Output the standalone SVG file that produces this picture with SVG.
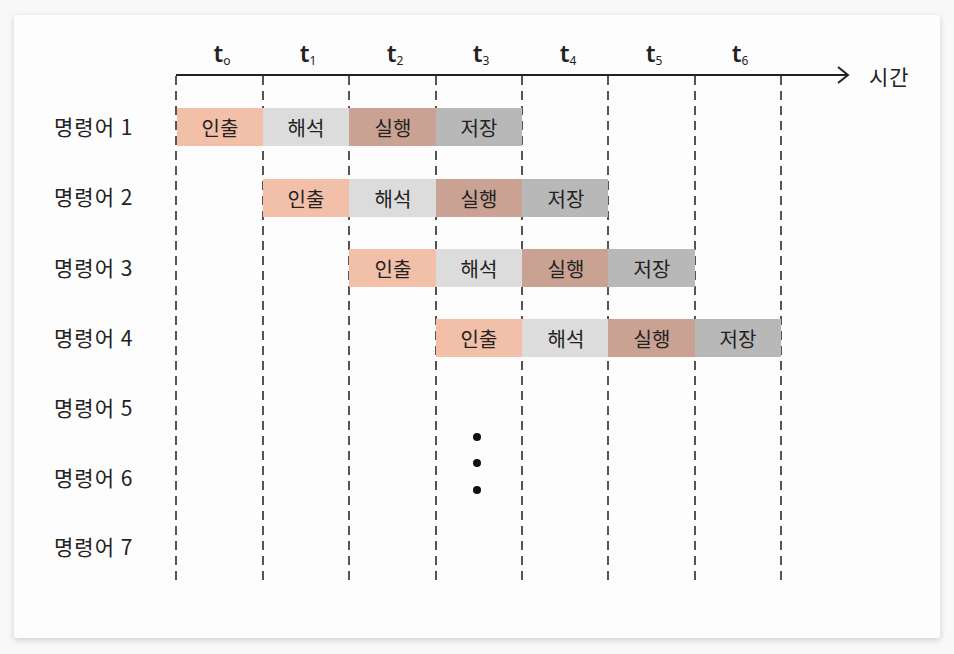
<svg xmlns="http://www.w3.org/2000/svg" width="954" height="654" viewBox="0 0 954 654">
<defs>
<filter id="sh" x="-5%" y="-5%" width="110%" height="110%">
<feGaussianBlur in="SourceAlpha" stdDeviation="3"/>
<feOffset dy="2"/>
<feComponentTransfer><feFuncA type="linear" slope="0.18"/></feComponentTransfer>
<feMerge><feMergeNode/><feMergeNode in="SourceGraphic"/></feMerge>
</filter>
<marker id="arr" markerWidth="14" markerHeight="20" refX="12" refY="10" orient="auto" markerUnits="userSpaceOnUse">
<path d="M2,2 L12,10 L2,18" fill="none" stroke="#222" stroke-width="2"/>
</marker>
</defs>
<style>
text{font-family:"Noto Sans CJK KR","Noto Sans",sans-serif;fill:#222;}
.lbl{font-size:21px;letter-spacing:1px;}
.cell{font-size:20px;text-anchor:middle;dominant-baseline:central;}
.t{font-size:24px;font-weight:600;text-anchor:middle;font-family:"Noto Sans","DejaVu Sans",sans-serif;}
.sub{font-size:12px;font-weight:normal;}
.dash{stroke:#555;stroke-width:2;stroke-dasharray:9 6;fill:none;}
.f{fill:#f2bfa9;}
.d{fill:#dcdcdc;}
.e{fill:#c9a293;}
.s{fill:#b8b8b8;}
</style>
<rect width="954" height="654" fill="#f8f8f8"/>
<rect x="14" y="15" width="926" height="623" rx="3" fill="#fdfdfd" filter="url(#sh)"/>

<g id="connectors">
<line x1="176" y1="75" x2="848" y2="75" stroke="#222" stroke-width="2" marker-end="url(#arr)"/>
<path class="dash" d="M176,76V580 M263,76V580 M349,76V580 M436,76V580 M522,76V580 M608,76V580 M695,76V580 M781,76V580"/>
</g>

<g id="axis-labels">
<text class="t" x="222" y="62">t<tspan class="sub" dy="3">o</tspan></text>
<text class="t" x="308" y="62">t<tspan class="sub" dy="3">1</tspan></text>
<text class="t" x="395" y="62">t<tspan class="sub" dy="3">2</tspan></text>
<text class="t" x="481" y="62">t<tspan class="sub" dy="3">3</tspan></text>
<text class="t" x="568" y="62">t<tspan class="sub" dy="3">4</tspan></text>
<text class="t" x="654" y="62">t<tspan class="sub" dy="3">5</tspan></text>
<text class="t" x="740" y="62">t<tspan class="sub" dy="3">6</tspan></text>
<text class="lbl" x="869" y="85">시간</text>
</g>

<g id="row-labels">
<text class="lbl" x="54" y="135">명령어 1</text>
<text class="lbl" x="54" y="205">명령어 2</text>
<text class="lbl" x="54" y="276">명령어 3</text>
<text class="lbl" x="54" y="346">명령어 4</text>
<text class="lbl" x="54" y="416">명령어 5</text>
<text class="lbl" x="54" y="486">명령어 6</text>
<text class="lbl" x="54" y="555">명령어 7</text>
</g>

<g id="instr1">
<rect class="f" x="177" y="108" width="86" height="38"/><text class="cell" x="220" y="127">인출</text>
<rect class="d" x="263" y="108" width="86" height="38"/><text class="cell" x="306" y="127">해석</text>
<rect class="e" x="349" y="108" width="87" height="38"/><text class="cell" x="393" y="127">실행</text>
<rect class="s" x="436" y="108" width="86" height="38"/><text class="cell" x="479" y="127">저장</text>
</g>
<g id="instr2">
<rect class="f" x="263" y="179" width="86" height="38"/><text class="cell" x="306" y="198">인출</text>
<rect class="d" x="349" y="179" width="87" height="38"/><text class="cell" x="393" y="198">해석</text>
<rect class="e" x="436" y="179" width="86" height="38"/><text class="cell" x="479" y="198">실행</text>
<rect class="s" x="522" y="179" width="86" height="38"/><text class="cell" x="566" y="198">저장</text>
</g>
<g id="instr3">
<rect class="f" x="349" y="249" width="87" height="38"/><text class="cell" x="393" y="268">인출</text>
<rect class="d" x="436" y="249" width="86" height="38"/><text class="cell" x="479" y="268">해석</text>
<rect class="e" x="522" y="249" width="86" height="38"/><text class="cell" x="566" y="268">실행</text>
<rect class="s" x="608" y="249" width="87" height="38"/><text class="cell" x="652" y="268">저장</text>
</g>
<g id="instr4">
<rect class="f" x="436" y="319" width="86" height="38"/><text class="cell" x="479" y="338">인출</text>
<rect class="d" x="522" y="319" width="86" height="38"/><text class="cell" x="566" y="338">해석</text>
<rect class="e" x="608" y="319" width="87" height="38"/><text class="cell" x="652" y="338">실행</text>
<rect class="s" x="695" y="319" width="86" height="38"/><text class="cell" x="738" y="338">저장</text>
</g>

<g id="ellipsis" fill="#111">
<circle cx="477" cy="437" r="4"/>
<circle cx="477" cy="463" r="4"/>
<circle cx="477" cy="490" r="4"/>
</g>
</svg>
